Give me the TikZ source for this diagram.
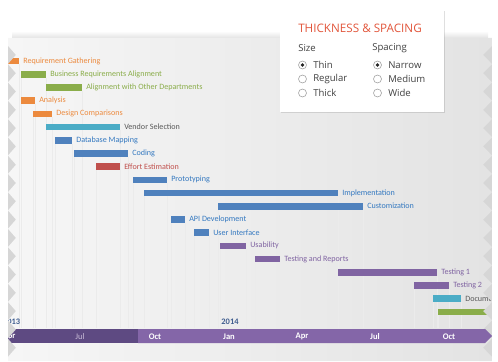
\documentclass[tikz,border=0pt]{standalone}
\usepackage{fontspec}
\newfontfamily\chartfont{Carlito}
\newfontfamily\uifont{Open Sans}
\usetikzlibrary{shadows}
\definecolor{orng}{HTML}{EC8A3E}
\definecolor{grn}{HTML}{8AAD4A}
\definecolor{tealbar}{HTML}{4BACC6}
\definecolor{blubar}{HTML}{4F81BD}
\definecolor{blutxt}{HTML}{3579C0}
\definecolor{redbar}{HTML}{C0504D}
\definecolor{purp}{HTML}{8064A2}
\definecolor{txtgray}{HTML}{595959}
\definecolor{tldark}{HTML}{5E4A82}
\definecolor{tllight}{HTML}{8466A8}
\definecolor{yrblue}{HTML}{3F5D8F}
\definecolor{ttlred}{HTML}{E2553B}
\definecolor{uigray}{HTML}{404040}

\begin{document}
\begin{tikzpicture}[x=0.025cm, y=-0.025cm,
  lbl/.style={anchor=west, inner sep=0pt, font=\chartfont\fontsize{5.75}{6}\selectfont},
  gridln/.style={gray!16, line width=0.35pt},
  month/.style={inner sep=0pt, text=white, font=\chartfont\bfseries\fontsize{6.1}{6.5}\selectfont},
  yr/.style={inner sep=0pt, text=yrblue, font=\chartfont\bfseries\fontsize{6}{6.5}\selectfont},
  opt/.style={anchor=west, inner sep=0pt, text=uigray, font=\uifont\fontsize{6.8}{7}\selectfont},
  radio/.style={draw=gray!75, fill=white, line width=0.4pt}]
  \useasboundingbox (0,0) rectangle (498,361);
  \def\panel{(8,38) -- (492,38) -- (492,45.75)
    foreach \k in {0,...,16}{ -- (483,{54.9+18.3*\k}) -- (492,{64.05+18.3*\k}) }
    -- (492,361) -- (8,361)
    foreach \k in {16,15,...,0}{ -- (8,{64.05+18.3*\k}) -- (16,{54.9+18.3*\k}) }
    -- (8,45.75) -- cycle};
  % paper
  \shade[top color=white, bottom color=gray!22] (12,31) rectangle (488,38);
  \fill[gray!32] (8,38) rectangle (492,361);
  \shade[left color=gray!7, middle color=white, right color=gray!22] \panel;
  \begin{scope}
    \clip \panel;
    \draw[gridln] (19,64.3) -- (19,328) (21,77.5) -- (21,328) (46,77.5) -- (46,328)
      (82,90.7) -- (82,328) (35,103.9) -- (35,328) (33,117.1) -- (33,328) (52,117.1) -- (52,328)
      (120,130.3) -- (120,328) (55,143.5) -- (55,328) (72,143.5) -- (72,328)
      (74,156.7) -- (74,328) (128,156.7) -- (128,328) (96,169.9) -- (96,328)
      (133,183.1) -- (133,328) (167,183.1) -- (167,328) (144,196.3) -- (144,328) (338,196.3) -- (338,328)
      (218,209.5) -- (218,328) (363,209.5) -- (363,328) (171,222.7) -- (171,328) (185,222.7) -- (185,328)
      (194,235.9) -- (194,328) (209,235.9) -- (209,328) (220,249.1) -- (220,328) (246,249.1) -- (246,328)
      (255,262.3) -- (255,328) (280,262.3) -- (280,328) (437,275.5) -- (437,328)
      (414,288.7) -- (414,328) (449,288.7) -- (449,328) (433,301.9) -- (433,328) (461,301.9) -- (461,328)
      (438,315.1) -- (438,328);
    % tasks
    \fill[orng] (-10,57.7) rectangle (19,64.3) (23,61) node[lbl] (req) {Requirement Gathering};
    \fill[grn] (21,70.9) rectangle (46,77.5) (50,74.2) node[lbl] (bizal) {Business Requirements Alignment};
    \fill[grn] (46,84.1) rectangle (82,90.7) (86,87.4) node[lbl] (deptal) {Alignment with Other Departments};
    \fill[orng] (21,97.3) rectangle (35,103.9) (39,100.6) node[lbl] (ana) {Analysis};
    \fill[orng] (33,110.5) rectangle (52,117.1) (56,113.8) node[lbl] (descmp) {Design Comparisons};
    \fill[tealbar] (46,123.7) rectangle (120,130.3) (124,127) node[lbl, text=txtgray] (vend) {Vendor Selection};
    \fill[blubar] (55,136.9) rectangle (72,143.5) (76,140.2) node[lbl, text=blutxt] (dbmap) {Database Mapping};
    \fill[blubar] (74,150.1) rectangle (128,156.7) (132,153.4) node[lbl, text=blutxt] (cod) {Coding};
    \fill[redbar] (96,163.3) rectangle (120,169.9) (124,166.6) node[lbl] (eff) {Effort Estimation};
    \fill[blubar] (133,176.5) rectangle (167,183.1) (171,179.8) node[lbl, text=blutxt] (proto) {Prototyping};
    \fill[blubar] (144,189.7) rectangle (338,196.3) (342,193) node[lbl, text=blutxt] (impl) {Implementation};
    \fill[blubar] (218,202.9) rectangle (363,209.5) (367,206.2) node[lbl, text=blutxt] (cust) {Customization};
    \fill[blubar] (171,216.1) rectangle (185,222.7) (189,219.4) node[lbl, text=blutxt] (api) {API Development};
    \fill[blubar] (194,229.3) rectangle (209,235.9) (213,232.6) node[lbl, text=blutxt] (ui) {User Interface};
    \fill[purp] (220,242.5) rectangle (246,249.1) (250,245.8) node[lbl] (usab) {Usability};
    \fill[purp] (255,255.7) rectangle (280,262.3) (284,259) node[lbl] (trep) {Testing and Reports};
    \fill[purp] (338,268.9) rectangle (437,275.5) (441,272.2) node[lbl] (tst1) {Testing 1};
    \fill[purp] (414,282.1) rectangle (449,288.7) (453,285.4) node[lbl] (tst2) {Testing 2};
    \fill[tealbar] (433,295.3) rectangle (461,301.9) (465,298.6) node[lbl, text=txtgray] (docu) {Documentation};
    \fill[grn] (438,308.5) rectangle (500,315.1);
    % timeline, left part
    \fill[tldark] (0,329) rectangle (138,343);
    \node[yr] (y13) at (11.7,322) {2013};
    \node[month] (apr13) at (9,336.3) {Apr};
  \end{scope}
  \fill[tllight] (138,329) -- (485,329) -- (492,336) -- (485,343) -- (138,343) -- cycle;
  \node[yr] (y14) at (230,322) {2014};
  \node[month, text=purp!45, font=\chartfont\fontsize{6.1}{6.5}\selectfont] (jul13) at (80,336.3) {Jul};
  \node[month] (oct13) at (155,336.3) {Oct};
  \node[month] (jan14) at (229,336.3) {Jan};
  \node[month] (apr14) at (302,336.3) {Apr};
  \node[month] (jul14) at (375,336.3) {Jul};
  \node[month] (oct14) at (449,336.3) {Oct};
  % legend
  \fill[white, drop shadow={shadow xshift=0.6pt, shadow yshift=-0.8pt, opacity=0.25}] (280,10) rectangle (444,112);
  \node[anchor=west, inner sep=0pt, text=ttlred, font=\uifont\fontsize{8.3}{9}\selectfont] (ttl) at (298,28) {THICKNESS \& SPACING};
  \node[opt] (size) at (298,48) {Size};
  \node[opt] (spc) at (372,48) {Spacing};
  \draw[radio] (302.5,65) circle[radius=4];
  \fill[black!85] (302.5,65) circle[radius=1.9];
  \draw[radio] (302.5,79) circle[radius=4];
  \draw[radio] (302.5,93) circle[radius=4];
  \node[opt] (thin) at (313,65) {Thin};
  \node[opt] (reg) at (313,79) {Regular};
  \node[opt] (thick) at (313,93) {Thick};
  \draw[radio] (377.5,65) circle[radius=4];
  \fill[black!85] (377.5,65) circle[radius=1.9];
  \draw[radio] (377.5,79) circle[radius=4];
  \draw[radio] (377.5,93) circle[radius=4];
  \node[opt] (narrow) at (388,65) {Narrow};
  \node[opt] (med) at (388,79) {Medium};
  \node[opt] (wide) at (388,93) {Wide};
\end{tikzpicture}
\end{document}
